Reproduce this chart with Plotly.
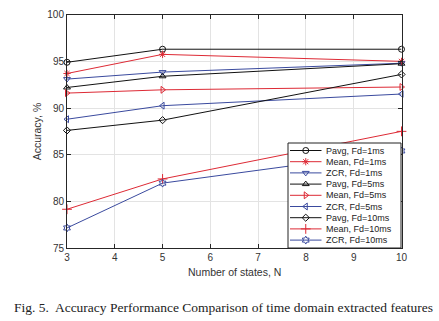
import plotly.graph_objects as go

# ---- data ----
n_states = [3, 5, 10]
pavg_1ms = [94.9, 96.3, 96.3]
mean_1ms = [93.7, 95.75, 95.0]
zcr_1ms = [93.1, 93.85, 94.8]
pavg_5ms = [92.2, 93.4, 94.75]
mean_5ms = [91.6, 91.95, 92.25]
zcr_5ms = [88.8, 90.25, 91.5]
pavg_10ms = [87.6, 88.7, 93.6]
mean_10ms = [79.15, 82.4, 87.5]
zcr_10ms = [77.15, 81.95, 85.4]

series_names = ["Pavg, Fd=1ms", "Mean, Fd=1ms", "ZCR, Fd=1ms",
                "Pavg, Fd=5ms", "Mean, Fd=5ms", "ZCR, Fd=5ms",
                "Pavg, Fd=10ms", "Mean, Fd=10ms", "ZCR, Fd=10ms"]
series_values = [pavg_1ms, mean_1ms, zcr_1ms, pavg_5ms, mean_5ms, zcr_5ms,
                 pavg_10ms, mean_10ms, zcr_10ms]
x_ticks = [3, 4, 5, 6, 7, 8, 9, 10]
y_ticks = [75, 80, 85, 90, 95, 100]

# ---- styles ----
BLACK = "#111111"
RED = "#dd2a35"
BLUE = "#3a4a9e"
colors = [BLACK, RED, BLUE] * 3
symbols = ["circle-open", "asterisk-open", "triangle-down-open",
           "triangle-up-open", "triangle-right-open", "triangle-left-open",
           "diamond-open", "cross-thin-open", "hexagram-open"]
sizes = [6, 6, 6, 6, 6, 6, 5.5, 7, 6]

W, H = 439, 321
PL, PR, PT, PB = 67, 401.5, 14.7, 248

fig = go.Figure()
for name, vals, c, s, sz in zip(series_names, series_values, colors, symbols, sizes):
    fig.add_trace(go.Scatter(
        x=n_states, y=vals, mode="lines+markers", name=name,
        line=dict(color=c, width=1),
        marker=dict(symbol=s, size=sz, color=c, line=dict(color=c, width=1)),
        cliponaxis=False, showlegend=False, xaxis="x", yaxis="y"))

# ---- custom legend (pixel coordinates on overlay axes) ----
LX0, LX1, LY0, LY1 = 288, 401, 143, 248
fig.add_trace(go.Scatter(
    x=[LX0, LX1, LX1, LX0, LX0], y=[LY0, LY0, LY1, LY1, LY0],
    mode="lines", fill="toself", fillcolor="white",
    line=dict(color="#222222", width=1), showlegend=False,
    hoverinfo="skip", xaxis="x2", yaxis="y2"))
row0, drow = 150.5, 11.2
sx0, sx1 = 290, 321.5
for i, (name, c, s, sz) in enumerate(zip(series_names, colors, symbols, sizes)):
    yy = row0 + i * drow
    fig.add_trace(go.Scatter(
        x=[sx0, sx1], y=[yy, yy], mode="lines",
        line=dict(color=c, width=1), showlegend=False, hoverinfo="skip",
        xaxis="x2", yaxis="y2"))
    fig.add_trace(go.Scatter(
        x=[(sx0 + sx1) / 2], y=[yy], mode="markers",
        marker=dict(symbol=s, size=sz, color=c, line=dict(color=c, width=1)),
        showlegend=False, hoverinfo="skip", cliponaxis=False,
        xaxis="x2", yaxis="y2"))
    fig.add_annotation(x=323.5, y=yy, xref="x2", yref="y2", text=name,
                       showarrow=False, xanchor="left", yanchor="middle",
                       font=dict(family="Liberation Sans, Arial", size=9, color="#222222"))

axis_common = dict(
    showline=True, linecolor="#262626", linewidth=1, mirror="ticks",
    ticks="inside", ticklen=4, tickcolor="#262626", tickwidth=1,
    showgrid=True, gridcolor="#e3e3e3", gridwidth=1, zeroline=False,
    tickfont=dict(family="Liberation Sans, Arial", size=10, color="#333333"),
    automargin=False, fixedrange=True)

fig.update_layout(
    width=W, height=H,
    margin=dict(l=0, r=0, t=0, b=0),
    paper_bgcolor="white", plot_bgcolor="rgba(0,0,0,0)",
    showlegend=False,
    xaxis=dict(domain=[PL / W, PR / W], range=[3, 10], tickvals=x_ticks,
               anchor="y", **axis_common),
    yaxis=dict(domain=[1 - PB / H, 1 - PT / H], range=[75, 100], tickvals=y_ticks,
               anchor="x", **axis_common),
    xaxis2=dict(domain=[0, 1], range=[0, W], visible=False, anchor="y2", fixedrange=True),
    yaxis2=dict(domain=[0, 1], range=[H, 0], visible=False, anchor="x2", fixedrange=True),
)

# axis titles and caption
fig.add_annotation(x=(PL + PR) / 2, y=272, xref="x2", yref="y2",
                   text="Number of states, N", showarrow=False,
                   font=dict(family="Liberation Sans, Arial", size=10.5, color="#333333"))
fig.add_annotation(x=37, y=(PT + PB) / 2, xref="x2", yref="y2",
                   text="Accuracy, %", textangle=-90, showarrow=False,
                   font=dict(family="Liberation Sans, Arial", size=10.5, color="#333333"))
fig.add_annotation(x=223, y=307.5, xref="x2", yref="y2",
                   text="Fig. 5.&nbsp; Accuracy Performance Comparison of time domain extracted features",
                   showarrow=False,
                   font=dict(family="Liberation Serif, Times New Roman", size=13.5, color="#222222"))

fig.write_html("out.html", config={"displayModeBar": False},
               post_script="document.body.style.margin='0';document.body.style.padding='0';")
